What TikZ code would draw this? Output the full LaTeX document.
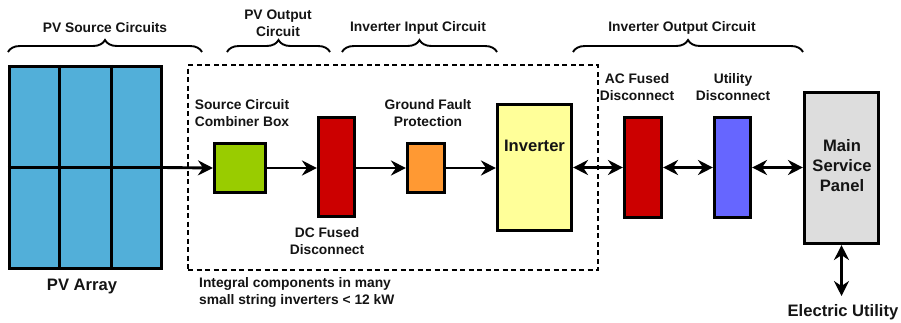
\documentclass[tikz,border=0pt]{standalone}
\usepackage{fontspec}
\setmainfont{Liberation Sans}
\usetikzlibrary{arrows.meta,decorations.pathreplacing,calc}
\definecolor{pvblue}{RGB}{82,175,217}
\definecolor{cgreen}{RGB}{153,204,0}
\definecolor{cred}{RGB}{204,0,0}
\definecolor{corange}{RGB}{255,153,51}
\definecolor{cyellow}{RGB}{255,255,153}
\definecolor{cviolet}{RGB}{102,102,255}
\definecolor{cgray}{RGB}{221,221,221}
\definecolor{txt}{RGB}{20,20,20}
\begin{document}
\begin{tikzpicture}[x=1pt,y=-1pt,
  blk/.style={draw=black, line width=3.1pt, inner sep=0pt},
  lbl/.style={font=\bfseries\fontsize{13.8}{17}\selectfont, align=center, inner sep=0pt, text=txt},
  biglbl/.style={font=\bfseries\fontsize{16.6}{20}\selectfont, align=center, inner sep=0pt, text=txt},
  conn/.style={line width=2.9pt, -{Stealth[length=15pt,width=15pt,inset=5pt]}},
  bconn/.style={line width=2.9pt, {Stealth[length=15pt,width=15pt,inset=5pt]}-{Stealth[length=15pt,width=15pt,inset=5pt]}},
  brc/.style={decorate, decoration={brace, amplitude=12pt}, line width=1.9pt},
  grpbox/.style={draw=black, line width=1.3pt, dash pattern=on 5pt off 3.5pt, inner sep=0pt}]
\useasboundingbox (0,0) rectangle (901,322);

% dashed group
\node[grpbox, minimum width=410, minimum height=205] (grp) at (393,167.5) {};

% PV array
\node[blk, fill=pvblue, minimum width=152, minimum height=202] (pv) at (85.5,167.5) {};
\draw[line width=3.1pt] ($(pv.north west)!1/3!(pv.north east)$) -- ($(pv.south west)!1/3!(pv.south east)$);
\draw[line width=3.1pt] ($(pv.north west)!2/3!(pv.north east)$) -- ($(pv.south west)!2/3!(pv.south east)$);
\draw[line width=3.1pt] (pv.west) -- (pv.east);

% components
\node[blk, fill=cgreen, minimum width=51, minimum height=49] (comb) at (240,168) {};
\node[blk, fill=cred, minimum width=36, minimum height=99] (dcd) at (336.5,167) {};
\node[blk, fill=corange, minimum width=37, minimum height=49] (gfp) at (426,168) {};
\node[blk, fill=cyellow, minimum width=74, minimum height=126] (inv) at (534.5,167.5) {};
\node[blk, fill=cred, minimum width=37, minimum height=100] (acd) at (643,167.5) {};
\node[blk, fill=cviolet, minimum width=36, minimum height=100] (utd) at (732.5,167.5) {};
\node[blk, fill=cgray, minimum width=74, minimum height=151] (msp) at (841.5,168) {};
\coordinate (eu) at (841.5,296);

% connectors
\draw[conn] (pv.east) -- (comb.west);
\draw[conn] (comb.east) -- (dcd.west |- comb.east);
\draw[conn] (dcd.east |- comb.east) -- (gfp.west);
\draw[conn] (gfp.east) -- (inv.west |- gfp.east);
\draw[bconn] (inv.east) -- (acd.west);
\draw[bconn] (acd.east) -- (utd.west);
\draw[bconn] (utd.east) -- (msp.west |- utd.east);
\draw[bconn] (msp.south) -- (eu);

% labels
\node[biglbl] (pvl) at (82,287) {PV Array};
\node[biglbl] (invl) at (534.5,146) {Inverter};
\node[biglbl] (mspl) at (842,166) {Main\\Service\\Panel};
\node[biglbl] (eul) at (843,312) {Electric Utility};
\node[lbl] (combl) at (242,113.5) {Source Circuit\\Combiner Box};
\node[lbl] (dcdl) at (327,241.5) {DC Fused\\Disconnect};
\node[lbl] (gfpl) at (428,113.5) {Ground Fault\\Protection};
\node[lbl] (acdl) at (637,87.5) {AC Fused\\Disconnect};
\node[lbl] (utdl) at (733,87.5) {Utility\\Disconnect};
\node[lbl, align=left, anchor=west] (intl) at (199,292.5) {Integral components in many\\small string inverters < 12 kW};

% braces
\draw[brc] (8,52) -- (202,52);
\draw[brc] (227,52) -- (330,52);
\draw[brc] (342,52) -- (497,52);
\draw[brc] (573,52) -- (803,52);
\node[lbl] (b1) at (105,28) {PV Source Circuits};
\node[lbl] (b2) at (278,23.5) {PV Output\\Circuit};
\node[lbl] (b3) at (418,28) {Inverter Input Circuit};
\node[lbl] (b4) at (682,28) {Inverter Output Circuit};
\end{tikzpicture}
\end{document}
